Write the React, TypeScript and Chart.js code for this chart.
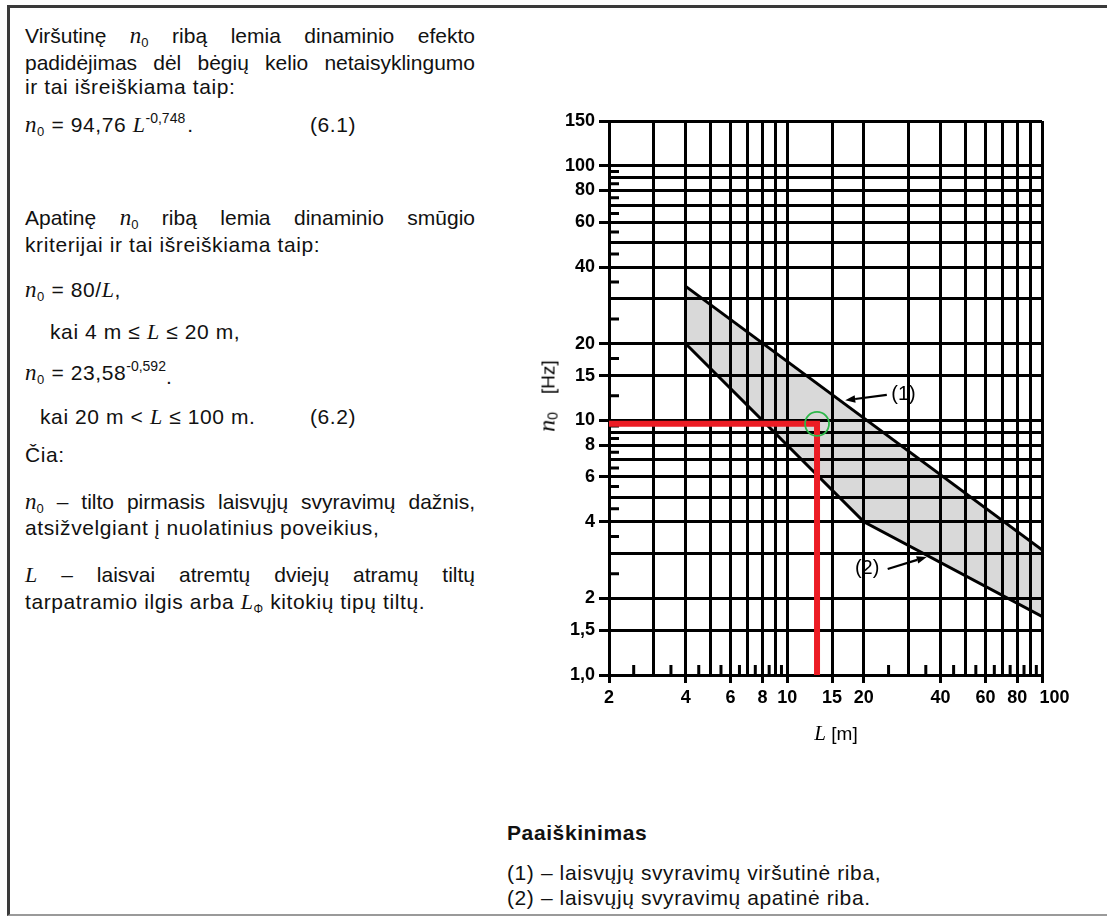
import React, { useEffect, useRef } from 'react';
import { Chart, registerables } from 'chart.js';

Chart.register(...registerables);

// ---- data ----
const X_GRID = [2, 3, 4, 5, 6, 7, 8, 9, 10, 15, 20, 30, 40, 50, 60, 70, 80, 90, 100];
const X_TICK_LABELS = ['2', '', '4', '', '6', '', '8', '', '10', '15', '20', '', '40', '', '60', '', '80', '', '\u2007\u2007 100'];
const X_MINOR = [2.5, 3.5, 4.5, 5.5, 6.5, 7.5, 8.5, 9.5, 25, 35, 45, 55, 65, 75, 85, 95];

const Y_GRID = [1, 1.5, 2, 3, 4, 5, 6, 7, 8, 9, 10, 15, 20, 30, 40, 50, 60, 70, 80, 90, 100, 150];
const Y_TICK_LABELS = ['1,0', '1,5', '2', '', '4', '', '6', '', '8', '', '10', '15', '20', '', '40', '', '60', '', '80', '', '100', '150'];
const Y_MINOR = [2.5, 3.5, 4.5, 5.5, 6.5, 7.5, 8.5, 9.5, 12.5, 17.5, 25, 35, 45, 55, 65, 75, 85, 95];

// curve (1): upper limit
const UPPER_L = [4, 100];
const UPPER_N = [33.6, 3.1];
// curve (2): lower limit
const LOWER_L = [4, 20, 100];
const LOWER_N = [20, 4, 1.7];

// red reading lines / green marker
const SELECTED_L = 13.1;
const SELECTED_N = 9.7;

// curve labels with arrows (data coordinates)
const ANNOT_TEXT = ['(1)', '(2)'];
const ANNOT_LABEL_L = [28.6, 20.6];
const ANNOT_LABEL_N = [12.6, 2.61];
const ANNOT_FROM_L = [24.6, 24.8];
const ANNOT_FROM_N = [12.6, 2.61];
const ANNOT_TO_L = [16.9, 35.3];
const ANNOT_TO_N = [12.0, 2.91];

const SANS = "'Liberation Sans', Arial, sans-serif";
const SERIF = "'Liberation Serif', 'Times New Roman', serif";
const LW = 3;

const overlayPlugin = {
  id: 'overlay',
  beforeDatasetsDraw(chart: any) {
    const { ctx, chartArea, scales } = chart;
    const xs = scales.x;
    const ys = scales.y;
    ctx.save();
    ctx.strokeStyle = '#000';
    ctx.lineWidth = LW;
    ctx.beginPath();
    X_MINOR.forEach((v) => {
      const px = xs.getPixelForValue(v);
      ctx.moveTo(px, chartArea.bottom);
      ctx.lineTo(px, chartArea.bottom - 10);
    });
    Y_MINOR.forEach((v) => {
      const py = ys.getPixelForValue(v);
      ctx.moveTo(chartArea.left, py);
      ctx.lineTo(chartArea.left + 10, py);
    });
    ctx.stroke();
    ctx.restore();
  },
  afterDraw(chart: any) {
    const { ctx, scales } = chart;
    const xs = scales.x;
    const ys = scales.y;
    ctx.save();
    ctx.strokeStyle = '#000';
    ctx.fillStyle = '#000';
    ctx.lineWidth = 2.2;
    ANNOT_TEXT.forEach((t, i) => {
      const x1 = xs.getPixelForValue(ANNOT_FROM_L[i]);
      const y1 = ys.getPixelForValue(ANNOT_FROM_N[i]);
      const x2 = xs.getPixelForValue(ANNOT_TO_L[i]);
      const y2 = ys.getPixelForValue(ANNOT_TO_N[i]);
      const ang = Math.atan2(y2 - y1, x2 - x1);
      const hl = 10;
      const hw = 3.8;
      const bx = x2 - hl * Math.cos(ang);
      const by = y2 - hl * Math.sin(ang);
      ctx.beginPath();
      ctx.moveTo(x1, y1);
      ctx.lineTo(bx, by);
      ctx.stroke();
      ctx.beginPath();
      ctx.moveTo(x2, y2);
      ctx.lineTo(bx + hw * Math.sin(ang), by - hw * Math.cos(ang));
      ctx.lineTo(bx - hw * Math.sin(ang), by + hw * Math.cos(ang));
      ctx.closePath();
      ctx.fill();
      ctx.font = `20px ${SANS}`;
      ctx.textAlign = 'center';
      ctx.textBaseline = 'middle';
      ctx.fillText(t, xs.getPixelForValue(ANNOT_LABEL_L[i]), ys.getPixelForValue(ANNOT_LABEL_N[i]));
    });
    ctx.restore();
  },
};

function N0() {
  return (
    <span>
      <i style={{ fontFamily: SERIF, fontSize: 23 }}>n</i>
      <span style={{ fontSize: 13, position: 'relative', top: 4 }}>0</span>
    </span>
  );
}

function Li() {
  return <i style={{ fontFamily: SERIF, fontSize: 22 }}>L</i>;
}

type LineProps = { y: number; x?: number; justify?: boolean; children: React.ReactNode };

function Line({ y, x = 25, justify = false, children }: LineProps) {
  return (
    <div
      style={{
        position: 'absolute',
        left: x,
        top: y - 13,
        width: justify ? 450 : undefined,
        height: 26,
        lineHeight: '26px',
        fontSize: 21,
        fontFamily: SANS,
        color: '#111',
        letterSpacing: justify ? '0px' : '0.6px',
        whiteSpace: justify ? 'normal' : 'nowrap',
        textAlign: justify ? 'justify' : 'left',
        textAlignLast: justify ? 'justify' : 'auto',
      } as React.CSSProperties}
    >
      {children}
    </div>
  );
}

export default function App() {
  const canvasRef = useRef<HTMLCanvasElement | null>(null);

  useEffect(() => {
    const canvas = canvasRef.current;
    if (!canvas) return;
    const tickFont = { family: SANS, size: 18, weight: 'bold' };
    const chart = new Chart(canvas, {
      type: 'line',
      data: {
        datasets: [
          {
            label: 'marker',
            data: [{ x: SELECTED_L, y: SELECTED_N }],
            showLine: false,
            pointRadius: 12,
            pointBorderColor: '#2db84a',
            pointBackgroundColor: 'rgba(0,0,0,0)',
            pointBorderWidth: 1.8,
          },
          {
            label: 'reading',
            data: [
              { x: X_GRID[0], y: SELECTED_N },
              { x: SELECTED_L, y: SELECTED_N },
              { x: SELECTED_L, y: Y_GRID[0] },
            ],
            borderColor: '#ec1c24',
            borderWidth: 6,
            borderJoinStyle: 'miter',
            pointRadius: 0,
            fill: false,
          },
          {
            label: '(1)',
            data: UPPER_L.map((l, i) => ({ x: l, y: UPPER_N[i] })),
            borderColor: '#000',
            borderWidth: LW,
            pointRadius: 0,
            backgroundColor: '#d9d9d9',
            fill: { target: 3, above: '#d9d9d9', below: '#d9d9d9' },
          },
          {
            label: '(2)',
            data: LOWER_L.map((l, i) => ({ x: l, y: LOWER_N[i] })),
            borderColor: '#000',
            borderWidth: LW,
            pointRadius: 0,
            fill: false,
          },
        ],
      },
      options: {
        responsive: false,
        maintainAspectRatio: false,
        animation: false,
        events: [],
        layout: { padding: { top: 21, right: 38, left: 0, bottom: 0 } },
        plugins: {
          legend: { display: false },
          tooltip: { enabled: false },
          filler: { drawTime: 'beforeDraw' },
        } as any,
        scales: {
          x: {
            type: 'logarithmic',
            position: 'bottom',
            min: 2,
            max: 100,
            afterBuildTicks: (s: any) => {
              s.ticks = X_GRID.map((v) => ({ value: v }));
            },
            afterFit: (s: any) => {
              s.height = 85;
              s.paddingLeft = 0;
              s.paddingRight = 0;
            },
            ticks: {
              autoSkip: false,
              maxRotation: 0,
              minRotation: 0,
              padding: 4,
              color: '#000',
              font: tickFont,
              callback: (_v: any, i: number) => X_TICK_LABELS[i],
            },
            grid: {
              color: '#000',
              lineWidth: LW,
              tickLength: 8,
              tickWidth: LW,
              tickColor: (c: any) => (X_TICK_LABELS[c.index] ? '#000' : 'rgba(0,0,0,0)'),
            },
            border: { color: '#000', width: LW },
          },
          y: {
            type: 'logarithmic',
            position: 'left',
            min: 1,
            max: 150,
            afterBuildTicks: (s: any) => {
              s.ticks = Y_GRID.map((v) => ({ value: v }));
            },
            afterFit: (s: any) => {
              s.width = 109;
              s.paddingTop = 0;
              s.paddingBottom = 0;
            },
            ticks: {
              autoSkip: false,
              padding: 4,
              color: '#000',
              font: tickFont,
              callback: (_v: any, i: number) => Y_TICK_LABELS[i],
            },
            grid: {
              color: '#000',
              lineWidth: LW,
              tickLength: 10,
              tickWidth: LW,
              tickColor: (c: any) => (Y_TICK_LABELS[c.index] ? '#000' : 'rgba(0,0,0,0)'),
            },
            border: { color: '#000', width: LW },
          },
        },
      } as any,
      plugins: [overlayPlugin],
    });
    return () => chart.destroy();
  }, []);

  return (
    <div
      style={{
        position: 'fixed',
        left: 0,
        top: 0,
        width: 1107,
        height: 916,
        background: '#fff',
        overflow: 'hidden',
        fontFamily: SANS,
        color: '#111',
      }}
    >
      {/* page frame */}
      <div
        style={{
          position: 'absolute',
          left: 7,
          top: 5,
          width: 1120,
          height: 906,
          borderLeft: '3px solid #3a3a3a',
          borderTop: '3px solid #3a3a3a',
          borderBottom: '2px solid #9a9a9a',
        }}
      />

      {/* left column text */}
      <Line y={36} justify>
        Viršutinę <N0 /> ribą lemia dinaminio efekto
      </Line>
      <Line y={63} justify>
        padidėjimas dėl bėgių kelio netaisyklingumo
      </Line>
      <Line y={87}>ir tai išreiškiama taip:</Line>
      <Line y={125}>
        <N0 /> = 94,76 <Li />
        <span style={{ fontSize: 14, position: 'relative', top: -9, letterSpacing: 0 }}>-0,748</span>
        <span style={{ marginLeft: 2 }}>.</span>
      </Line>
      <Line y={125} x={310}>(6.1)</Line>

      <Line y={218} justify>
        Apatinę <N0 /> ribą lemia dinaminio smūgio
      </Line>
      <Line y={245}>kriterijai ir tai išreiškiama taip:</Line>
      <Line y={290}>
        <N0 /> = 80/<Li />,
      </Line>
      <Line y={332} x={50}>
        kai 4 m ≤ <Li /> ≤ 20 m,
      </Line>
      <Line y={373}>
        <N0 /> = 23,58
        <span style={{ fontSize: 14, position: 'relative', top: -9, letterSpacing: 0 }}>-0,592</span>
        <span style={{ position: 'relative', top: 4 }}>.</span>
      </Line>
      <Line y={417} x={40}>
        kai 20 m &lt; <Li /> ≤ 100 m.
      </Line>
      <Line y={417} x={310}>(6.2)</Line>
      <Line y={455}>Čia:</Line>
      <Line y={502} justify>
        <N0 /> – tilto pirmasis laisvųjų svyravimų dažnis,
      </Line>
      <Line y={528}>atsižvelgiant į nuolatinius poveikius,</Line>
      <Line y={575} justify>
        <Li /> – laisvai atremtų dviejų atramų tiltų
      </Line>
      <Line y={602}>
        tarpatramio ilgis arba <Li />
        <span style={{ fontSize: 12, position: 'relative', top: 4 }}>Φ</span> kitokių tipų tiltų.
      </Line>

      {/* chart */}
      <canvas
        ref={canvasRef}
        width={580}
        height={660}
        style={{ position: 'absolute', left: 500, top: 100, width: 580, height: 660 }}
      />

      {/* y-axis title */}
      <div
        style={{
          position: 'absolute',
          left: 548,
          top: 396,
          transform: 'translate(-50%, -50%) rotate(-90deg)',
          whiteSpace: 'nowrap',
          fontSize: 19,
          lineHeight: '22px',
          color: '#000',
        }}
      >
        <i style={{ fontFamily: SERIF, fontSize: 24 }}>n</i>
        <span style={{ fontSize: 14, position: 'relative', top: 3 }}>0</span>
        <span style={{ marginLeft: 18 }}>[Hz]</span>
      </div>

      {/* x-axis title */}
      <div
        style={{
          position: 'absolute',
          left: 836,
          top: 733,
          transform: 'translate(-50%, -50%)',
          whiteSpace: 'nowrap',
          fontSize: 19,
          lineHeight: '22px',
          color: '#000',
        }}
      >
        <i style={{ fontFamily: SERIF, fontSize: 21 }}>L</i> [m]
      </div>

      {/* explanation */}
      <div
        style={{
          position: 'absolute',
          left: 507,
          top: 833 - 13,
          height: 26,
          lineHeight: '26px',
          fontSize: 21,
          fontWeight: 700,
          letterSpacing: '0.6px',
          whiteSpace: 'nowrap',
        }}
      >
        Paaiškinimas
      </div>
      <Line y={873} x={507}>(1) – laisvųjų svyravimų viršutinė riba,</Line>
      <Line y={898} x={507}>(2) – laisvųjų svyravimų apatinė riba.</Line>
    </div>
  );
}
